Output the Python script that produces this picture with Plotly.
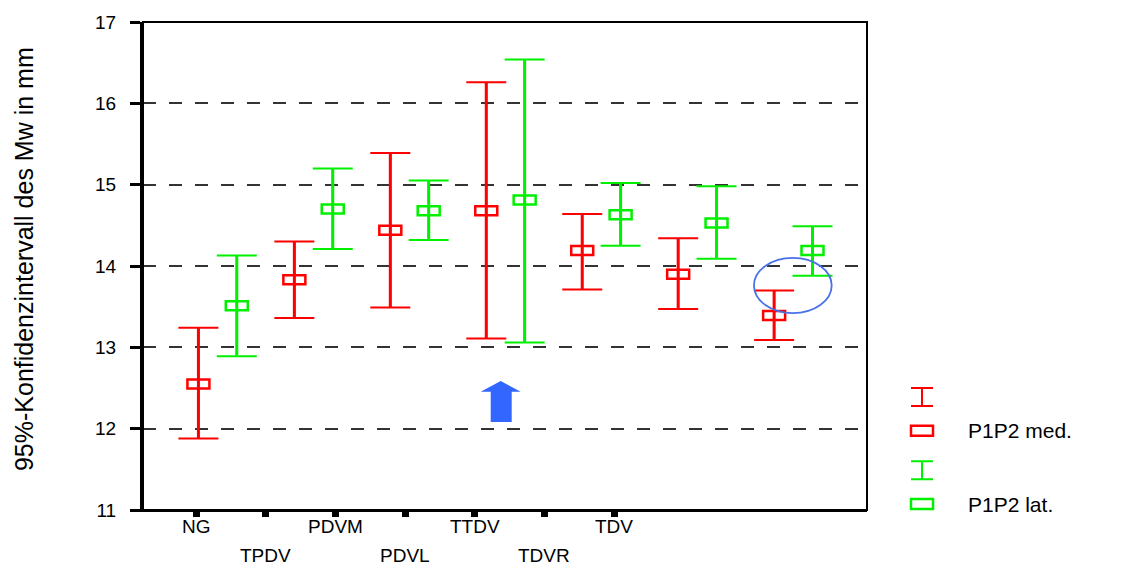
import plotly.graph_objects as go

# ---------------- data ----------------
groups = ["NG", "TPDV", "PDVM", "PDVL", "TTDV", "TDVR", "TDV"]
med_mean = [12.55, 13.83, 14.44, 14.68, 14.19, 13.90, 13.39]
med_low = [11.88, 13.36, 13.49, 13.11, 13.71, 13.47, 13.09]
med_high = [13.24, 14.30, 15.39, 16.26, 14.64, 14.34, 13.70]
lat_mean = [13.51, 14.70, 14.68, 14.81, 14.63, 14.53, 14.19]
lat_low = [12.89, 14.21, 14.32, 13.06, 14.25, 14.09, 13.88]
lat_high = [14.13, 15.20, 15.05, 16.54, 15.02, 14.98, 14.49]
y_ticks = [11, 12, 13, 14, 15, 16, 17]
series_names = ["P1P2 med.", "P1P2 lat."]

RED = "#ff0000"
GREEN = "#00f000"
FONT = "Liberation Sans, Arial, sans-serif"

# ---------------- layout geometry ----------------
W, H = 1128, 566
L, R, T, B = 143, 867, 18, 510          # plot area in pixels
OFF = 0.2                                # offset of each series within group
XR = [-0.7775, 6.768]
tick_start, tick_step = -0.225, 0.7261  # label positions (as in the original)


def px2x(px):
    return (px - L) / (R - L)


def py2y(py):
    return (B - py) / (B - T)


fig = go.Figure()
shapes = []
annotations = []

for means, lows, highs, color, sign in [
    (med_mean, med_low, med_high, RED, -1),
    (lat_mean, lat_low, lat_high, GREEN, 1),
]:
    xs = [i + sign * OFF for i in range(len(groups))]
    # vertical bars (thicker)
    vx, vy = [], []
    for x, lo, hi in zip(xs, lows, highs):
        vx += [x, x, None]
        vy += [lo, hi, None]
    fig.add_trace(go.Scatter(x=vx, y=vy, mode="lines",
                             line=dict(color=color, width=3),
                             hoverinfo="skip", showlegend=False))
    # caps via error bars
    fig.add_trace(go.Scatter(
        x=xs, y=means, mode="markers",
        marker=dict(size=1, color="rgba(0,0,0,0)"),
        error_y=dict(type="data", symmetric=False,
                     array=[h - m for h, m in zip(highs, means)],
                     arrayminus=[m - l for m, l in zip(means, lows)],
                     color=color, thickness=2, width=20),
        showlegend=False))
    # rectangular open mean markers
    for x, m in zip(xs, means):
        shapes.append(dict(type="rect", xref="x", yref="y",
                           xsizemode="pixel", ysizemode="pixel",
                           xanchor=x, yanchor=m,
                           x0=-11, x1=11, y0=-4.5, y1=4.5,
                           line=dict(color=color, width=2.5)))

# frame
shapes.append(dict(type="rect", xref="paper", yref="paper", x0=0, x1=1, y0=0, y1=1,
                   line=dict(color="black", width=2), layer="above"))

# blue ellipse around TDV
shapes.append(dict(type="circle", xref="x", yref="y",
                   x0=5.59, x1=6.40, y0=13.42, y1=14.10,
                   line=dict(color="#4a72e8", width=1.8)))

# blue block arrow below PDVL
tip_x, tip_y = 500.7, 380
arrow_path = ("M 0 0 L 20 -10.7 L 11 -10.7 L 11 -41 L -10 -41 L -10 -10.7 "
              "L -20 -10.7 Z")
shapes.append(dict(type="path", xref="paper", yref="paper",
                   xsizemode="pixel", ysizemode="pixel",
                   xanchor=px2x(tip_x), yanchor=py2y(tip_y),
                   path=arrow_path, fillcolor="#3366ff",
                   line=dict(color="#3366ff", width=0)))

# x tick labels (staggered)
for k, g in enumerate(groups):
    annotations.append(dict(
        x=tick_start + k * tick_step, xref="x",
        y=py2y(527 if k % 2 == 0 else 556), yref="paper",
        text=g, showarrow=False, xanchor="center", yanchor="middle",
        font=dict(family=FONT, size=19, color="black")))

# y title
annotations.append(dict(
    x=px2x(24), y=py2y(257), xref="paper", yref="paper",
    text="95%-Konfidenzintervall des Mw in mm", textangle=-90,
    showarrow=False, xanchor="center", yanchor="middle",
    font=dict(family=FONT, size=25, color="black")))

# custom legend
for color, yb, ysq, name in [(RED, 396, 430, series_names[0]),
                             (GREEN, 470, 504, series_names[1])]:
    cx = 922
    shapes.append(dict(type="path", xref="paper", yref="paper",
                       xsizemode="pixel", ysizemode="pixel",
                       xanchor=px2x(cx), yanchor=py2y(yb),
                       path="M -11 9 L 11 9 M 0 9 L 0 -9 M -11 -9 L 11 -9",
                       line=dict(color=color, width=2)))
    shapes.append(dict(type="rect", xref="paper", yref="paper",
                       xsizemode="pixel", ysizemode="pixel",
                       xanchor=px2x(cx), yanchor=py2y(ysq),
                       x0=-11, x1=11, y0=-5, y1=5,
                       line=dict(color=color, width=2.5)))
    annotations.append(dict(
        x=px2x(966), y=py2y(ysq), xref="paper", yref="paper",
        text=name, showarrow=False, xanchor="left", yanchor="middle",
        font=dict(family=FONT, size=21, color="black")))

fig.update_layout(
    width=W, height=H,
    margin=dict(l=L, r=W - R, t=T, b=H - B, pad=0),
    paper_bgcolor="white", plot_bgcolor="white",
    showlegend=False,
    shapes=shapes, annotations=annotations,
    xaxis=dict(range=XR, showgrid=False, zeroline=False,
               showline=True, linecolor="black", linewidth=2,
               tickmode="array",
               tickvals=[tick_start + k * tick_step for k in range(len(groups))],
               ticktext=["" for _ in groups],
               ticks="outside", ticklen=5, tickwidth=7, tickcolor="black",
               showticklabels=False, fixedrange=True),
    yaxis=dict(range=[11, 17], zeroline=False,
               showline=True, linecolor="black", linewidth=3,
               tickmode="array", tickvals=y_ticks,
               ticktext=[str(v) for v in y_ticks],
               ticks="outside", ticklen=10, tickwidth=3, tickcolor="black",
               ticklabelstandoff=10,
               tickfont=dict(family=FONT, size=19, color="black"),
               showgrid=True, gridcolor="#333333", gridwidth=2,
               griddash="13px,13px", fixedrange=True),
)

fig.write_html(
    "out.html",
    config={"displayModeBar": False},
    post_script="document.body.style.margin='0';document.body.style.overflow='hidden';",
)
